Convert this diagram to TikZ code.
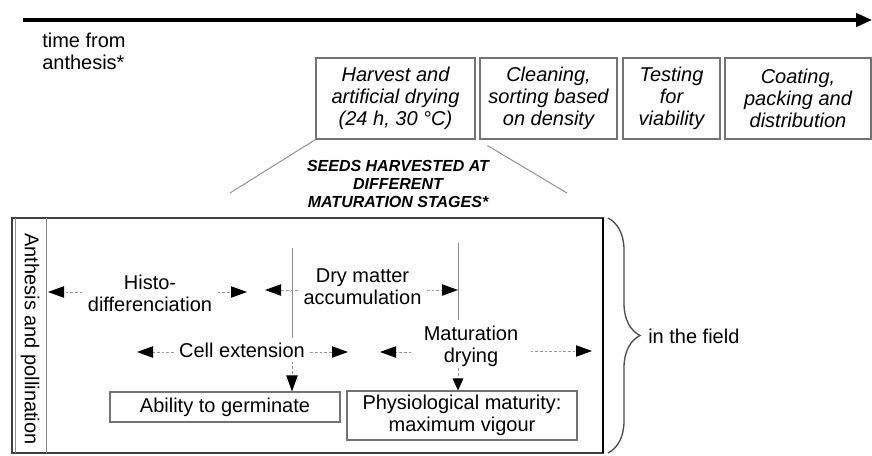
\documentclass[tikz,border=0pt]{standalone}
\usepackage{fontspec}
\setmainfont{Liberation Sans}
\usetikzlibrary{calc}
\usetikzlibrary{arrows.meta}
\usetikzlibrary{decorations.pathreplacing}

\newcommand\pxu{0.75pt}

\tikzset{
  stagebox/.style={draw=black!55,line width=0.8pt,font=\itshape\fontsize{15}{16.5}\selectfont,minimum height=81*\pxu},
  fieldbox/.style={draw=black!55,line width=0.8pt,minimum width=230*\pxu},
  span/.style={draw=black!40,dash pattern=on 2pt off 1.5pt,line width=0.7pt,-{Triangle[length=12pt,width=8.5pt,black]}},
  tick/.style={draw=black!45,line width=0.7pt},
}

\begin{document}
\begin{tikzpicture}[x=\pxu,y=-\pxu,
  every node/.style={font=\fontsize{15}{16.5}\selectfont,inner sep=0pt,align=center}]
  % Boundary
  \path[use as bounding box] (0,0) rectangle (872,455);
  % Time axis
  \coordinate (t0) at (23,20);
  \coordinate (t1) at (872,20);
  \draw[line width=2.4pt,-{Triangle[length=12pt,width=10pt]}] (t0) -- (t1);
  \node[anchor=west,align=left] (time) at (42,51) {time from\\anthesis*};
  % Post-harvest stages
  \node[stagebox,minimum width=159*\pxu] (harvest) at (395.5,98.5) {Harvest and\\artificial drying\\(24 h, 30 \textdegree C)};
  \node[stagebox,minimum width=137*\pxu] (cleaning) at (548.5,98.5) {Cleaning,\\sorting based\\on density};
  \node[stagebox,minimum width=97*\pxu] (testing) at (671.5,98.5) {Testing\\for\\viability};
  \node[stagebox,minimum width=146*\pxu] (coating) at (798,98.5) {Coating,\\packing and\\distribution};
  % Callout
  \node[font=\bfseries\itshape\fontsize{12}{13.5}\selectfont] (seeds) at (398,184) {SEEDS HARVESTED AT\\DIFFERENT\\MATURATION STAGES*};
  \coordinate (c1) at (230,193);
  \coordinate (c3) at (567,193);
  \draw[tick] (harvest.south west) -- (c1);
  \draw[tick] ($(cleaning.south west)+(8,6)$) -- (c3);
  % Field frame
  \draw[black!75,line width=1.2pt] (12,218) rectangle (603,453);
  \draw[black,line width=1.8pt] (603,218) -- (603,453);
  \draw[tick] (15,218) -- (15,453);
  \draw[tick] (46,218) -- (46,453);
  \node[rotate=-90] (anthesis) at (30,339) {Anthesis and pollination};
  % Phase limits
  \coordinate (v1t) at (292,248);
  \coordinate (v1b) at (292,338);
  \coordinate (v2t) at (458,243);
  \coordinate (v2b) at (458,320);
  \draw[tick] (v1t) -- (v1b);
  \draw[tick] (v2t) -- (v2b);
  % Phases
  \node (histo) at (150,293.5) {Histo-\\differenciation};
  \node (dry) at (362.5,286.5) {Dry matter\\accumulation};
  \node (cell) at (242,350) {Cell extension};
  \node (mat) at (471,346.5) {Maturation\\drying};
  \coordinate (hl) at (48,292);
  \coordinate (hr) at (247,292);
  \coordinate (dl) at (265,290);
  \coordinate (dr) at (458,290);
  \coordinate (cl) at (137,352);
  \coordinate (cr) at (348,352);
  \coordinate (ml) at (380,352);
  \coordinate (mr) at (592,351);
  \draw[span,shorten <=4pt] (histo.west |- hl) -- (hl);
  \draw[span,shorten <=4pt] (histo.east |- hr) -- (hr);
  \draw[span,shorten <=4pt] (dry.west |- dl) -- (dl);
  \draw[span,shorten <=4pt] (dry.east |- dr) -- (dr);
  \draw[span,shorten <=4pt] (cell.west |- cl) -- (cl);
  \draw[span,shorten <=4pt] (cell.east |- cr) -- (cr);
  \draw[span,shorten <=9pt] (mat.west |- ml) -- (ml);
  \draw[span,shorten <=9pt] (mat.east |- mr) -- (mr);
  % Outcomes
  \node[fieldbox,minimum height=30*\pxu] (germ) at (225,407) {Ability to germinate};
  \node[fieldbox,minimum height=49*\pxu] (phys) at (462,415.5) {Physiological maturity:\\maximum vigour};
  \draw[span,shorten <=3pt] (cell.south -| v1t) -- (germ.north -| v1t);
  \draw[span,shorten <=1pt,-{Triangle[length=9pt,width=8pt,black]}] (mat.south -| v2t) -- (phys.north -| v2t);
  % In the field
  \coordinate (b0) at (608,218);
  \coordinate (b1) at (608,453);
  \draw[black!70,line width=1pt,decorate,decoration={brace,amplitude=24pt,aspect=0.5}] (b0) -- (b1);
  \node[anchor=west] (field) at (648,336) {in the field};
\end{tikzpicture}
\end{document}
